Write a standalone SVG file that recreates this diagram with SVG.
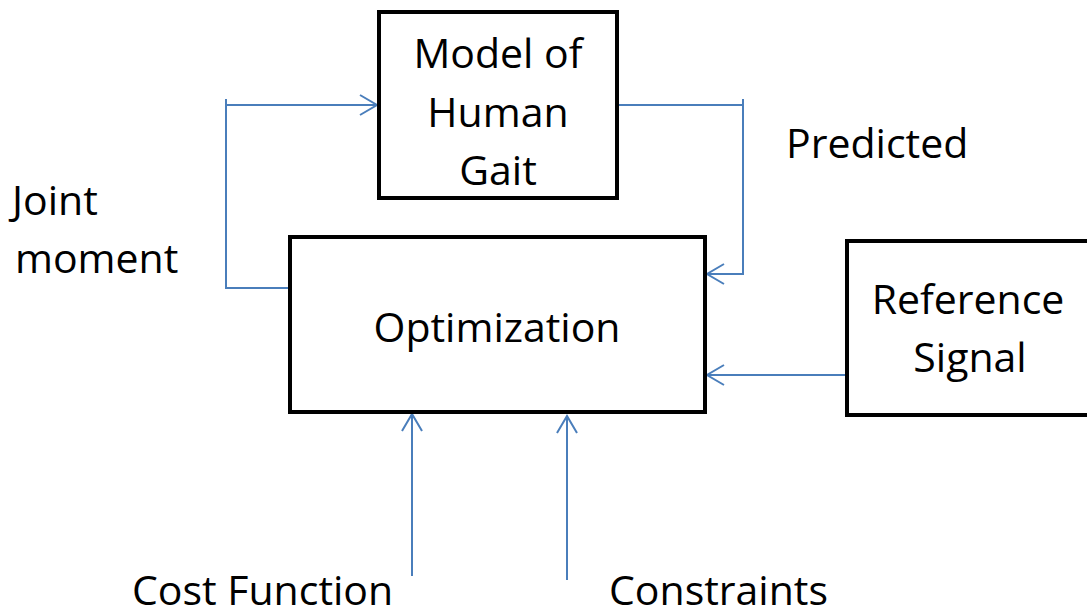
<svg xmlns="http://www.w3.org/2000/svg" width="1087" height="612" viewBox="0 0 1087 612">
<style>
.box{fill:#fff;stroke:#000;stroke-width:4}
.lbl{font-family:"Open Sans","Liberation Sans",sans-serif;font-size:41px;fill:#000}
.c{text-anchor:middle}
.conn{fill:none;stroke:#4a7ebb;stroke-width:2}
</style>
<defs>
<marker id="arr" markerUnits="userSpaceOnUse" markerWidth="24" markerHeight="24" viewBox="-20 -12 24 24" refX="0" refY="0" orient="auto">
<path d="M-17,-10 L0,0 L-17,10" fill="none" stroke="#4a7ebb" stroke-width="2"/>
</marker>
</defs>
<rect width="1087" height="612" fill="#fff"/>
<g id="connectors">
<path class="conn" d="M290,288 H226 V99"/>
<path class="conn" d="M226,105 H377" marker-end="url(#arr)"/>
<path class="conn" d="M617,105 H743"/>
<path class="conn" d="M743,99 V274 H707" marker-end="url(#arr)"/>
<path class="conn" d="M846,375 H707" marker-end="url(#arr)"/>
<path class="conn" d="M412,576 V414" marker-end="url(#arr)"/>
<path class="conn" d="M567,580 V416" marker-end="url(#arr)"/>
</g>
<g id="model">
<rect class="box" x="379" y="12" width="238" height="186"/>
<text class="lbl c" x="498" y="68">Model of</text>
<text class="lbl c" x="498" y="127">Human</text>
<text class="lbl c" x="498" y="185">Gait</text>
</g>
<g id="optimization">
<rect class="box" x="290" y="237" width="415" height="175"/>
<text class="lbl c" x="497" y="342">Optimization</text>
</g>
<g id="reference">
<rect class="box" x="847" y="241" width="260" height="174"/>
<text class="lbl c" x="968" y="314">Reference</text>
<text class="lbl c" x="970" y="372">Signal</text>
</g>
<g id="joint-moment">
<text class="lbl" x="12" y="215">Joint</text>
<text class="lbl" x="15" y="273">moment</text>
</g>
<g id="predicted">
<text class="lbl" x="786" y="158">Predicted</text>
</g>
<g id="cost-function">
<text class="lbl" x="132" y="605">Cost Function</text>
</g>
<g id="constraints">
<text class="lbl" x="609" y="605">Constraints</text>
</g>
</svg>
